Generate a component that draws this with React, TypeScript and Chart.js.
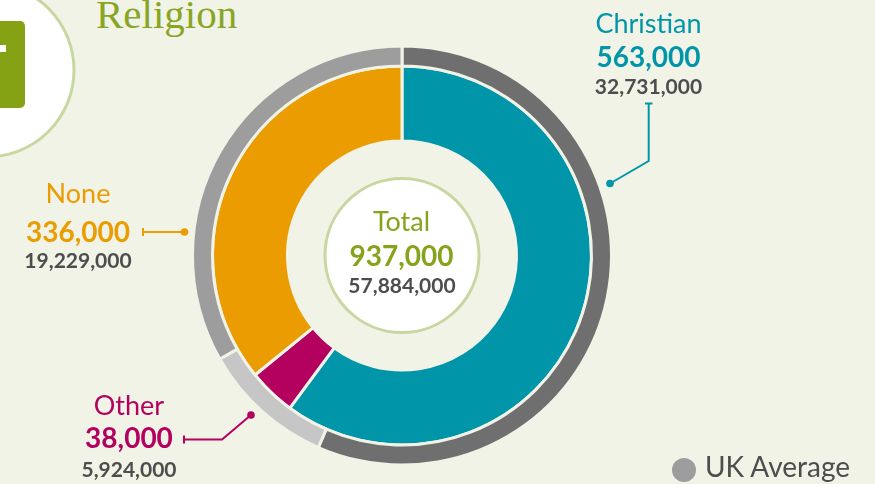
import React, { useEffect, useRef } from "react";
import { Chart, registerables } from "chart.js";

Chart.register(...registerables);

const categories = ["Christian", "Other", "None"];
const localValues = [563000, 38000, 336000];
const ukValues = [32731000, 5924000, 19229000];
const localColors = ["#0095a8", "#b4005f", "#eb9c00"];
const ukColors = ["#6f6f6f", "#c6c6c6", "#9d9d9d"];
const titleText = "Religion";
const totalLabel = "Total";
const legendLabel = "UK Average";

const BG = "#f1f3e7";
const GREEN = "#86a31c";
const GRAY_TEXT = "#4d4d4d";
const FONT = "Lato, 'Open Sans', sans-serif";

const fmt = (v: number) => v.toLocaleString("en-US");
const sum = (a: number[]) => a.reduce((s, v) => s + v, 0);

export default function App() {
  const ref = useRef<HTMLCanvasElement | null>(null);

  useEffect(() => {
    if (!ref.current) return;
    const chart = new Chart(ref.current, {
      type: "doughnut",
      data: {
        labels: categories,
        datasets: [
          {
            data: ukValues,
            backgroundColor: ukColors,
            borderColor: BG,
            borderWidth: 3,
            weight: 20,
          },
          {
            data: localValues,
            backgroundColor: localColors,
            borderColor: BG,
            borderWidth: 3,
            weight: 75,
          },
        ],
      },
      options: {
        animation: false,
        responsive: false,
        radius: 209.5,
        cutout: "54.65%",
        layout: { padding: { left: 192.5, right: 263.5, top: 46, bottom: 19 } },
        plugins: { legend: { display: false }, tooltip: { enabled: false } },
        events: [],
      } as any,
    });
    return () => chart.destroy();
  }, []);

  const labelBlock = (
    i: number,
    cx: number,
    y1: number,
    y2: number,
    y3: number
  ) => (
    <g key={categories[i]} textAnchor="middle" fontFamily={FONT}>
      <text x={cx} y={y1} fontSize={27} fill={localColors[i]}>
        {categories[i]}
      </text>
      <text x={cx} y={y2} fontSize={28} fontWeight="bold" fill={localColors[i]}>
        {fmt(localValues[i])}
      </text>
      <text x={cx} y={y3} fontSize={21} fontWeight="bold" fill={GRAY_TEXT}>
        {fmt(ukValues[i])}
      </text>
    </g>
  );

  return (
    <div
      style={{
        position: "fixed",
        left: 0,
        top: 0,
        width: 875,
        height: 484,
        background: BG,
        overflow: "hidden",
      }}
    >
      <svg
        width={875}
        height={484}
        style={{ position: "absolute", left: 0, top: 0 }}
      >
        <circle cx={-13} cy={70} r={87} fill="#ffffff" stroke="#c8d6a0" strokeWidth={3} />
        <rect x={-10} y={21} width={35} height={87} rx={5} fill="#84a213" />
        <rect x={-2} y={45} width={8} height={7} fill="#ffffff" />
        <text x={96} y={28} fontFamily="'Liberation Serif', serif" fontSize={41} fill="#88a524">
          {titleText}
        </text>
        <circle cx={402} cy={255.5} r={77} fill="#ffffff" stroke="#c8d6a0" strokeWidth={3} />
      </svg>
      <canvas
        ref={ref}
        width={875}
        height={484}
        style={{ position: "absolute", left: 0, top: 0 }}
      />
      <svg
        width={875}
        height={484}
        style={{ position: "absolute", left: 0, top: 0, pointerEvents: "none" }}
      >
        <g textAnchor="middle" fontFamily={FONT}>
          <text x={401.5} y={231} fontSize={27} fill={GREEN}>
            {totalLabel}
          </text>
          <text x={401.5} y={266} fontSize={28} fontWeight="bold" fill={GREEN}>
            {fmt(sum(localValues))}
          </text>
          <text x={402} y={292.5} fontSize={21} fontWeight="bold" fill={GRAY_TEXT}>
            {fmt(sum(ukValues))}
          </text>
        </g>
        {labelBlock(0, 648.5, 32.5, 67, 94)}
        {labelBlock(2, 78, 203, 241.5, 267.5)}
        {labelBlock(1, 129, 415, 448, 477)}

        <g fill="none" strokeWidth={2}>
          <polyline points="648.7,103.5 648.7,161 610,183.5" stroke={localColors[0]} />
          <line x1={645} y1={103.5} x2={652.5} y2={103.5} stroke={localColors[0]} />
          <line x1={143} y1={232} x2={184} y2={232} stroke={localColors[2]} />
          <line x1={143} y1={228} x2={143} y2={236} stroke={localColors[2]} />
          <polyline points="184,439.5 222,439.5 251,415" stroke={localColors[1]} />
          <line x1={184} y1={435.5} x2={184} y2={443.5} stroke={localColors[1]} />
        </g>
        <circle cx={610} cy={183.5} r={3.8} fill={localColors[0]} />
        <circle cx={184.5} cy={232} r={3.8} fill={localColors[2]} />
        <circle cx={251} cy={415} r={3.8} fill={localColors[1]} />

        <circle cx={684} cy={470} r={12} fill={ukColors[2]} />
        <text x={705} y={477} fontFamily={FONT} fontSize={28} fill={GRAY_TEXT}>
          {legendLabel}
        </text>
      </svg>
    </div>
  );
}
